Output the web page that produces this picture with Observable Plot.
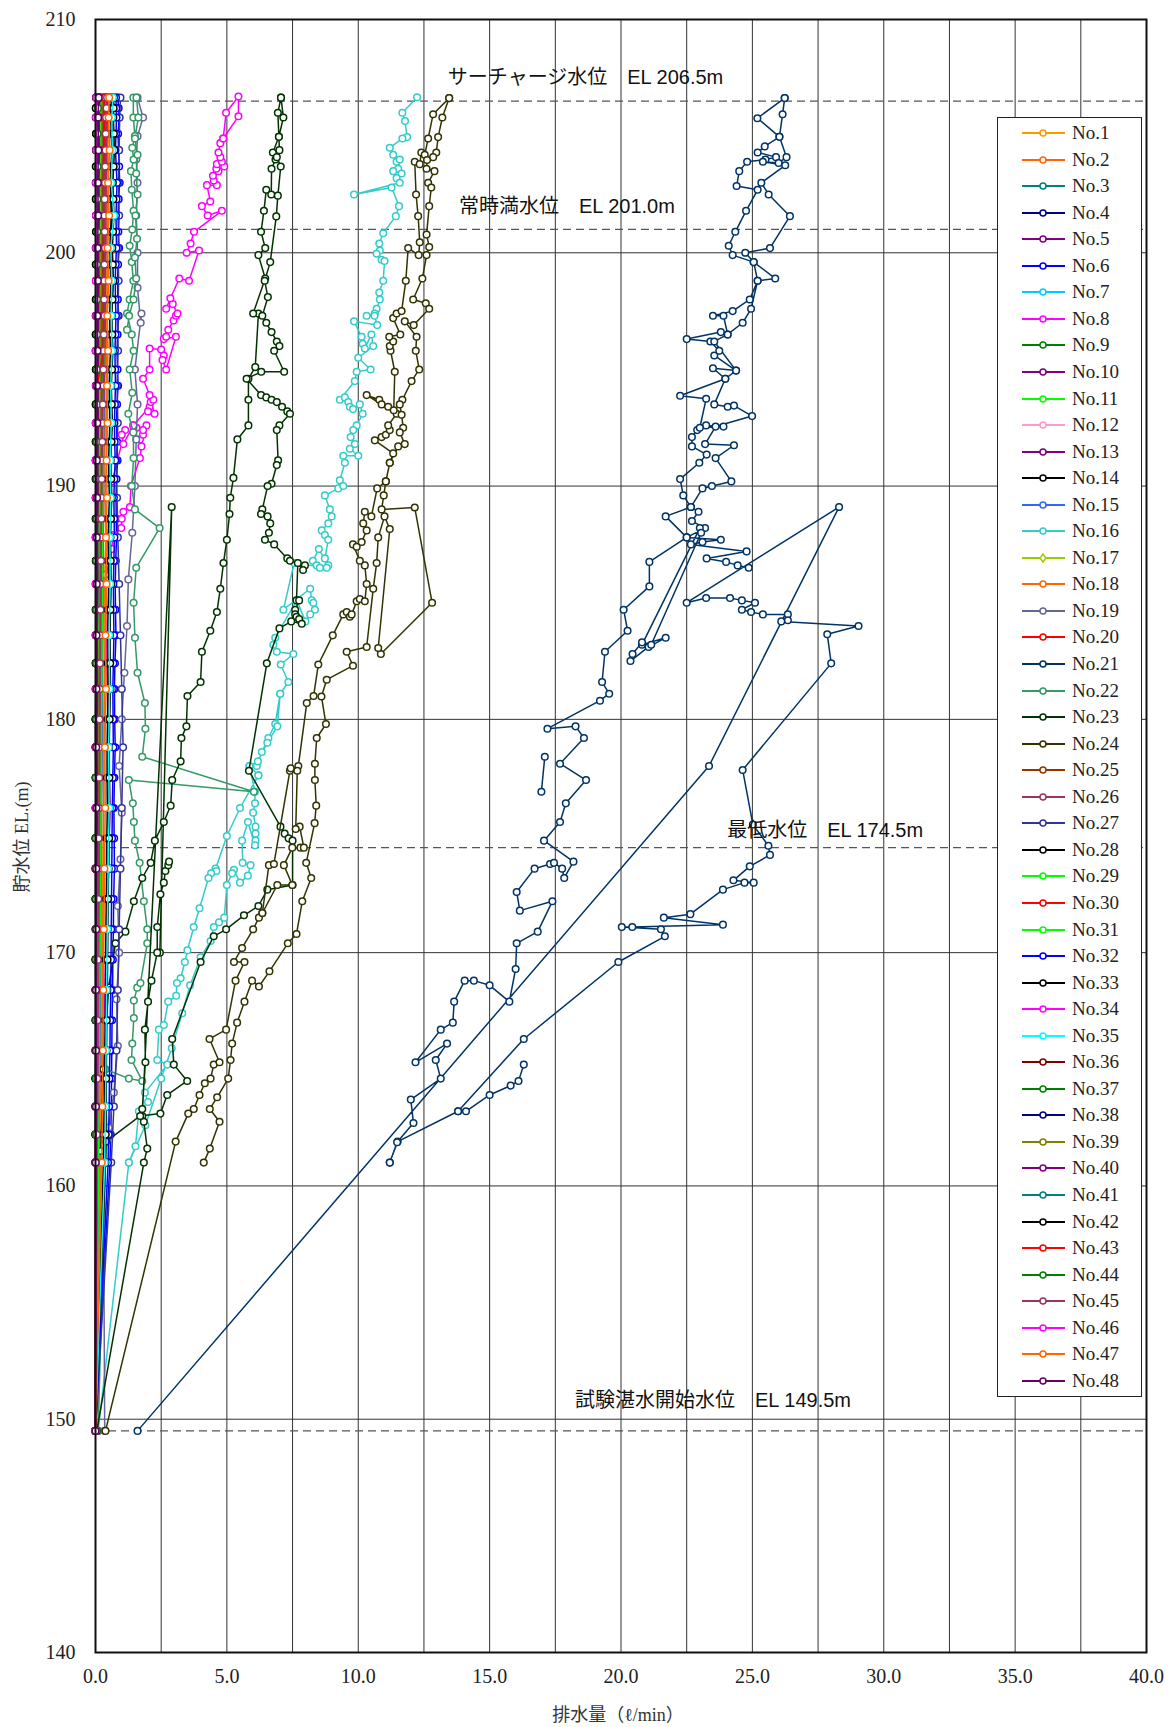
<!DOCTYPE html>
<html>
<head>
<meta charset="utf-8">
<script src="https://cdn.jsdelivr.net/npm/d3@7"></script>
<script src="https://cdn.jsdelivr.net/npm/@observablehq/plot@0.6"></script>
<style>
  body { margin: 0; background: #fff; }
  #wrap { position: relative; width: 1172px; height: 1727px; background: #fff; }
  #legend { position: absolute; left: 997px; top: 117px; width: 145px; height: 1280px;
            background: #fff; border: 1px solid #222; box-sizing: border-box; }
  #legend .row { position: absolute; left: 20px; height: 22px; display: flex; align-items: center;
                 font-family: "Liberation Serif", serif; font-size: 19px; color: #222; }
  #legend .row svg { margin-right: 4px; }
  .axis-title { position: absolute; font-family: "Liberation Serif", "Noto Sans CJK JP", serif;
                font-size: 18px; color: #333; white-space: nowrap; }
</style>
</head>
<body>
<div id="wrap"></div>
<script>
// ---- axes, grid and reference water levels ----
const xTicks = [0, 5, 10, 15, 20, 25, 30, 35, 40];
const xGrid = [2.5, 5, 7.5, 10, 12.5, 15, 17.5, 20, 22.5, 25, 27.5, 30, 32.5, 35, 37.5];
const yTicks = [140, 150, 160, 170, 180, 190, 200, 210];
const yGrid = [150, 160, 170, 180, 190, 200];
const refLevels = [206.5, 201.0, 174.5, 149.5];
const noteText = ["サーチャージ水位　EL 206.5m", "常時満水位　EL 201.0m", "最低水位　EL 174.5m", "試験湛水開始水位　EL 149.5m"];
const noteX = [13.41, 13.83, 24.04, 18.25];
const noteY = [207.5, 201.98, 175.22, 150.78];

// ---- series names and colours ----
const seriesNames = Array.from({length: 48}, (_, i) => "No." + (i + 1));
const seriesColors = [
  "#FF9900", "#FF6600", "#008080", "#000080", "#800080", "#0000FF", "#00CCFF", "#FF00FF",
  "#008000", "#800080", "#00FF00", "#FF99CC", "#800080", "#000000", "#3366FF", "#33CCCC",
  "#99CC00", "#FF6600", "#666699", "#FF0000", "#003366", "#339966", "#003300", "#333300",
  "#993300", "#993366", "#333399", "#000000", "#00FF00", "#FF0000", "#00FF00", "#0000FF",
  "#000000", "#FF00FF", "#00FFFF", "#800000", "#008000", "#000080", "#808000", "#800080",
  "#008080", "#000000", "#FF0000", "#008000", "#993366", "#FF00FF", "#FF6600", "#660066"
];

// ---- reservoir levels at which the small-discharge drains were read ----
const startLevel = 149.5;
const levels = [206.65, 205.8, 204.4, 203.0, 201.6, 200.2, 198.8, 197.3, 195.8, 194.3, 192.7, 191.1,
                189.5, 187.8, 185.8, 183.6, 181.3, 178.8, 176.2, 173.6, 171.0, 168.4, 165.8, 163.4, 161.0];
// further readings taken between the levels above (some drains only)
const levelsB = [206.2, 205.1, 203.7, 202.3, 200.9, 199.5, 198.0, 196.5, 195.0, 193.5, 191.9, 190.3,
                 188.6, 186.8, 184.7, 182.4, 180.0, 177.5, 174.9, 172.3, 169.7, 167.1, 164.6, 162.2];

// discharge (l/min) of the small drains, one value per level above
const no1  = [0.55,0.50,0.52,0.48,0.50,0.45,0.47,0.44,0.45,0.42,0.40,0.42,0.38,0.40,0.36,0.35,0.33,0.30,0.30,0.28,0.25,0.22,0.20,0.18,0.15];
const no2  = [0.45,0.42,0.45,0.40,0.42,0.38,0.40,0.36,0.38,0.35,0.34,0.33,0.32,0.30,0.30,0.28,0.26,0.25,0.22,0.20,0.18,0.16,0.14,0.12,0.10];
const no3  = [0.10,0.08,0.12,0.10,0.08,0.10,0.06,0.08,0.05,0.06,0.04,0.05,0.04,0.03,0.04,0.03,0.02,0.03,0.02,0.02,0.02,0.01,0.02,0.01,0.01];
const no4  = [0.15,0.12,0.14,0.10,0.12,0.10,0.12,0.08,0.10,0.08,0.06,0.08,0.05,0.06,0.05,0.04,0.05,0.04,0.03,0.04,0.03,0.02,0.03,0.02,0.02];
const no5  = [0.20,0.18,0.16,0.18,0.15,0.16,0.14,0.15,0.12,0.13,0.12,0.10,0.11,0.10,0.09,0.08,0.09,0.07,0.08,0.06,0.05,0.05,0.04,0.04,0.03];
const no6  = [0.85,0.90,0.88,0.92,0.86,0.90,0.84,0.88,0.82,0.86,0.80,0.84,0.78,0.80,0.75,0.78,0.72,0.75,0.70,0.72,0.68,0.65,0.62,0.60,0.55];
const no7  = [0.30,0.28,0.30,0.26,0.28,0.25,0.26,0.24,0.25,0.22,0.23,0.20,0.22,0.19,0.20,0.18,0.17,0.16,0.15,0.14,0.12,0.11,0.10,0.09,0.08];
const no9  = [0.12,0.15,0.10,0.14,0.12,0.15,0.10,0.12,0.14,0.10,0.12,0.10,0.11,0.09,0.10,0.08,0.09,0.07,0.08,0.06,0.07,0.05,0.06,0.04,0.05];
const no10 = [0.35,0.32,0.30,0.33,0.30,0.31,0.28,0.30,0.27,0.28,0.26,0.25,0.26,0.24,0.22,0.23,0.20,0.21,0.19,0.18,0.16,0.15,0.14,0.12,0.10];
const no11 = [0.25,0.22,0.24,0.20,0.22,0.20,0.18,0.20,0.17,0.18,0.16,0.17,0.15,0.16,0.14,0.15,0.13,0.12,0.11,0.10,0.09,0.08,0.07,0.06,0.05];
const no12 = [0.05,0.04,0.05,0.04,0.05,0.03,0.04,0.03,0.04,0.03,0.03,0.02,0.03,0.02,0.02,0.02,0.02,0.01,0.02,0.01,0.01,0.01,0.01,0.01,0.00];
const no13 = [0.28,0.25,0.27,0.24,0.26,0.23,0.24,0.22,0.23,0.21,0.20,0.21,0.19,0.20,0.18,0.17,0.16,0.15,0.14,0.13,0.12,0.11,0.10,0.09,0.08];
const no14 = [0.65,0.62,0.66,0.60,0.64,0.58,0.62,0.60,0.63,0.58,0.60,0.56,0.58,0.55,0.56,0.52,0.54,0.50,0.52,0.48,0.45,0.42,0.40,0.38,0.35];
const no15 = [0.40,0.38,0.40,0.36,0.38,0.35,0.36,0.34,0.33,0.34,0.32,0.30,0.31,0.29,0.28,0.27,0.26,0.25,0.23,0.22,0.20,0.18,0.17,0.15,0.13];
const no17 = [0.22,0.20,0.21,0.19,0.20,0.18,0.19,0.17,0.18,0.16,0.17,0.15,0.16,0.14,0.13,0.12,0.12,0.11,0.10,0.09,0.08,0.07,0.06,0.05,0.04];
const no18 = [0.50,0.48,0.46,0.48,0.45,0.46,0.43,0.44,0.42,0.43,0.40,0.41,0.38,0.39,0.36,0.37,0.34,0.33,0.31,0.30,0.28,0.26,0.24,0.22,0.20];
const no20 = [0.42,0.40,0.38,0.40,0.37,0.38,0.35,0.36,0.34,0.05,0.02,0.03,0.04,0.03,0.02,0.03,0.02,0.02,0.01,0.02,0.01,0.01,0.02,0.01,0.01];
const no25 = [0.32,0.30,0.31,0.28,0.30,0.27,0.28,0.26,0.27,0.25,0.24,0.25,0.23,0.22,0.21,0.20,0.19,0.18,0.17,0.16,0.14,0.13,0.12,0.10,0.09];
const no26 = [0.48,0.45,0.42,0.40,0.38,0.40,0.36,0.38,0.35,0.33,0.30,0.28,0.26,0.24,0.22,0.20,0.18,0.16,0.15,0.14,0.12,0.10,0.09,0.08,0.06];
const no27 = [0.95,0.92,0.90,0.88,0.90,0.86,0.88,0.85,0.86,0.82,0.85,0.80,0.82,0.85,0.90,0.95,1.00,1.05,1.00,0.95,0.90,0.85,0.80,0.70,0.60];
const no28 = [0.60,0.58,0.62,0.56,0.60,0.55,0.58,0.54,0.57,0.52,0.55,0.50,0.53,0.48,0.50,0.46,0.48,0.44,0.45,0.42,0.40,0.38,0.36,0.33,0.30];
const no29 = [0.18,0.16,0.17,0.15,0.16,0.14,0.15,0.13,0.14,0.12,0.13,0.11,0.12,0.10,0.11,0.09,0.10,0.08,0.09,0.07,0.08,0.06,0.07,0.05,0.04];
const no30 = [0.08,0.06,0.07,0.05,0.06,0.05,0.04,0.05,0.04,0.03,0.04,0.03,0.02,0.03,0.02,0.02,0.01,0.02,0.01,0.02,0.01,0.01,0.01,0.00,0.00];
const no31 = [0.38,0.35,0.36,0.33,0.35,0.32,0.33,0.30,0.32,0.29,0.30,0.28,0.29,0.26,0.27,0.25,0.24,0.22,0.21,0.20,0.18,0.16,0.15,0.13,0.12];
const no32 = [0.78,0.80,0.76,0.82,0.78,0.80,0.75,0.78,0.74,0.76,0.72,0.75,0.70,0.72,0.68,0.70,0.66,0.68,0.64,0.62,0.60,0.58,0.55,0.52,0.48];
const no33 = [0.70,0.68,0.72,0.66,0.70,0.64,0.68,0.62,0.66,0.60,0.64,0.58,0.62,0.57,0.60,0.55,0.57,0.52,0.54,0.50,0.47,0.45,0.42,0.40,0.38];
const no34 = [0.10,0.09,0.08,0.09,0.07,0.08,0.06,0.07,0.05,0.06,0.04,0.05,0.04,0.03,0.04,0.03,0.02,0.03,0.05,0.08,0.10,0.12,0.10,0.08,0.06];
const no35 = [0.66,0.62,0.64,0.60,0.70,0.58,0.62,0.60,0.63,0.58,0.60,0.56,0.58,0.55,0.56,0.52,0.54,0.50,0.52,0.48,0.45,0.42,0.40,0.38,0.35];
const no36 = [0.02,0.03,0.02,0.03,0.02,0.03,0.02,0.02,0.01,0.02,0.01,0.02,0.01,0.02,0.01,0.01,0.02,0.01,0.01,0.01,0.02,0.01,0.01,0.01,0.00];
const no37 = [0.14,0.12,0.15,0.11,0.13,0.10,0.12,0.10,0.11,0.09,0.10,0.08,0.09,0.07,0.08,0.06,0.07,0.05,0.06,0.05,0.04,0.04,0.03,0.03,0.02];
const no38 = [0.06,0.05,0.06,0.04,0.05,0.04,0.05,0.03,0.04,0.03,0.04,0.02,0.03,0.02,0.03,0.02,0.02,0.01,0.02,0.01,0.01,0.01,0.01,0.00,0.00];
const no39 = [0.26,0.24,0.25,0.22,0.24,0.21,0.22,0.20,0.21,0.19,0.20,0.18,0.19,0.17,0.16,0.15,0.14,0.13,0.12,0.11,0.10,0.09,0.08,0.07,0.06];
const no40 = [0.16,0.14,0.15,0.13,0.14,0.12,0.13,0.11,0.12,0.10,0.11,0.09,0.10,0.08,0.09,0.07,0.08,0.06,0.07,0.05,0.05,0.04,0.04,0.03,0.03];
const no41 = [0.04,0.03,0.04,0.03,0.03,0.02,0.03,0.02,0.03,0.02,0.02,0.01,0.02,0.01,0.02,0.01,0.01,0.01,0.01,0.01,0.00,0.01,0.00,0.00,0.00];
const no42 = [0.02,0.01,0.02,0.01,0.02,0.01,0.02,0.01,0.01,0.01,0.02,0.01,0.01,0.01,0.01,0.01,0.01,0.00,0.01,0.00,0.01,0.00,0.00,0.00,0.00];
const no43 = [0.36,0.34,0.35,0.32,0.34,0.31,0.32,0.30,0.31,0.05,0.03,0.04,0.02,0.03,0.02,0.02,0.01,0.02,0.01,0.01,0.02,0.01,0.01,0.01,0.00];
const no44 = [0.08,0.10,0.07,0.09,0.06,0.08,0.05,0.07,0.05,0.06,0.04,0.05,0.04,0.04,0.03,0.04,0.03,0.03,0.02,0.03,0.02,0.02,0.02,0.01,0.01];
const no45 = [0.44,0.40,0.38,0.36,0.34,0.36,0.32,0.34,0.30,0.30,0.27,0.25,0.24,0.22,0.20,0.18,0.16,0.15,0.13,0.12,0.10,0.09,0.08,0.06,0.05];
const no46 = [0.03,0.02,0.03,0.02,0.02,0.02,0.01,0.02,0.01,0.02,0.01,0.01,0.02,0.01,0.01,0.01,0.02,0.01,0.01,0.04,0.06,0.05,0.04,0.03,0.02];
const no47 = [0.52,0.50,0.54,0.48,0.52,0.46,0.50,0.45,0.48,0.44,0.46,0.42,0.44,0.40,0.42,0.38,0.40,0.36,0.37,0.34,0.32,0.30,0.28,0.26,0.24];
const no48 = [0.12,0.10,0.11,0.09,0.10,0.08,0.09,0.07,0.08,0.06,0.07,0.05,0.06,0.05,0.05,0.04,0.04,0.03,0.04,0.03,0.03,0.02,0.02,0.02,0.01];

// readings at levelsB
const no3b  = [0.09,0.11,0.09,0.07,0.09,0.07,0.06,0.07,0.05,0.05,0.04,0.05,0.03,0.04,0.03,0.03,0.02,0.02,0.02,0.02,0.01,0.02,0.01,0.01];
const no6b  = [0.88,0.86,0.90,0.88,0.87,0.86,0.85,0.84,0.84,0.82,0.82,0.80,0.79,0.77,0.76,0.74,0.73,0.72,0.71,0.69,0.66,0.63,0.61,0.58];
const no9b  = [0.14,0.12,0.13,0.13,0.14,0.12,0.11,0.13,0.12,0.11,0.11,0.10,0.10,0.09,0.09,0.08,0.08,0.07,0.07,0.06,0.06,0.05,0.05,0.04];
const no14b = [0.63,0.64,0.62,0.62,0.61,0.60,0.61,0.61,0.60,0.59,0.58,0.57,0.56,0.55,0.54,0.53,0.52,0.51,0.50,0.46,0.44,0.41,0.39,0.36];
const no20b = [0.41,0.39,0.39,0.38,0.37,0.36,0.35,0.35,0.20,0.04,0.03,0.03,0.03,0.02,0.02,0.02,0.02,0.01,0.01,0.01,0.01,0.01,0.01,0.01];
const no26b = [0.46,0.43,0.41,0.39,0.39,0.38,0.37,0.36,0.34,0.31,0.29,0.27,0.25,0.23,0.21,0.19,0.17,0.15,0.14,0.13,0.11,0.10,0.08,0.07];
const no28b = [0.59,0.60,0.59,0.58,0.57,0.56,0.56,0.55,0.54,0.53,0.52,0.51,0.50,0.49,0.48,0.47,0.46,0.44,0.43,0.41,0.39,0.37,0.34,0.31];
const no30b = [0.07,0.06,0.06,0.05,0.05,0.05,0.04,0.04,0.03,0.03,0.03,0.02,0.02,0.02,0.02,0.01,0.01,0.01,0.01,0.01,0.01,0.01,0.00,0.00];
const no32b = [0.79,0.78,0.79,0.80,0.79,0.77,0.76,0.76,0.75,0.74,0.73,0.72,0.71,0.70,0.69,0.68,0.67,0.66,0.63,0.61,0.59,0.56,0.53,0.50];
const no33b = [0.69,0.70,0.69,0.68,0.67,0.66,0.65,0.64,0.63,0.62,0.61,0.60,0.59,0.58,0.57,0.56,0.54,0.53,0.52,0.48,0.46,0.43,0.41,0.39];
const no36b = [0.02,0.02,0.03,0.02,0.02,0.02,0.02,0.01,0.02,0.01,0.01,0.01,0.01,0.02,0.01,0.01,0.01,0.01,0.01,0.01,0.01,0.01,0.01,0.00];
const no38b = [0.05,0.05,0.05,0.04,0.04,0.04,0.04,0.03,0.03,0.03,0.03,0.02,0.02,0.02,0.02,0.02,0.01,0.01,0.01,0.01,0.01,0.01,0.00,0.00];
const no42b = [0.01,0.02,0.01,0.01,0.02,0.01,0.01,0.01,0.01,0.01,0.01,0.01,0.01,0.01,0.01,0.01,0.00,0.01,0.00,0.00,0.00,0.00,0.00,0.00];
const no44b = [0.09,0.08,0.08,0.07,0.07,0.06,0.06,0.06,0.05,0.05,0.04,0.04,0.04,0.03,0.03,0.03,0.03,0.02,0.02,0.02,0.02,0.02,0.01,0.01];
const no45b = [0.42,0.39,0.37,0.35,0.35,0.34,0.33,0.32,0.30,0.28,0.26,0.24,0.23,0.21,0.19,0.17,0.15,0.14,0.12,0.11,0.09,0.08,0.07,0.05];

// ---- larger drains: traced runs of [discharge, level] readings ----
const no8 = [
  [[0.1,149.5],[0.2,161.0],[0.25,163.4],[0.3,165.8],[0.35,168.4],[0.4,171.0],[0.5,173.6],[0.55,176.2],[0.5,178.8],[0.45,181.3],[0.4,183.6],[0.375,186.2],[0.56,186.8],[0.63,187.3],[0.69,187.9],[0.98,188.2],[1.0,188.6],[1.06,188.9],[1.31,189.1],[1.35,190.0],[1.69,191.2],[1.75,191.7],[1.69,192.0],[1.81,192.2],[1.94,192.6],[1.81,192.4],[1.56,192.5],[1.44,192.6],[2.06,193.4],[2.0,193.2],[2.25,193.1],[2.1,193.6],[2.2,193.7],[2.06,193.9],[1.81,194.6],[2.06,195.0],[2.06,195.9],[2.5,195.85],[2.6,195.6],[2.55,195.4],[2.69,195.0],[3.06,196.4],[2.6,196.3],[2.69,196.4],[2.77,196.7],[2.97,197.1],[3.06,197.3],[3.12,197.4],[2.94,197.8],[2.69,197.6],[2.85,198.05],[3.19,198.9],[3.56,198.8],[3.94,200.1],[3.47,200.0],[3.62,200.4],[3.75,200.9],[4.81,201.8],[4.27,201.6],[4.05,202.0],[4.37,202.2],[4.24,202.9],[4.62,202.9],[4.5,203.1],[4.47,203.3],[4.9,203.7],[4.68,203.5],[4.6,203.6],[4.62,203.8],[4.81,203.9],[4.75,204.1],[4.68,204.3],[4.75,204.7],[4.86,204.9],[4.97,206.0],[5.44,206.7],[5.44,205.85],[4.86,204.9]],
  [[0.63,190.2],[1.13,192.4],[1.0,192.2],[1.06,191.8],[1.44,192.6]]
];

const no16 = [
  [[12.24,206.67],[11.68,206.0],[11.78,205.65],[11.86,204.96],[11.68,204.9],[11.2,204.5],[11.33,204.2],[11.46,203.9],[11.58,204.0],[11.52,203.6],[11.33,203.5],[11.65,203.4],[11.46,203.2],[11.58,203.0],[9.84,202.5],[11.27,202.8],[11.55,202.0],[11.43,201.57],[10.95,200.84],[10.8,200.4],[10.82,200.1],[10.7,199.96],[10.89,199.7],[11.0,199.65],[10.95,198.8],[10.8,198.3],[10.82,198.0],[10.7,197.6],[10.63,197.4],[10.32,197.3],[10.62,197.3],[10.72,196.9],[9.84,197.06],[10.13,196.4],[10.17,196.1],[10.25,195.9],[10.5,196.5],[10.57,196.0],[10.0,195.5],[10.47,195.0],[9.94,194.9],[9.87,194.5],[9.3,193.7],[9.49,193.8],[9.62,193.6],[9.68,193.4],[9.8,193.3],[10.06,193.5],[10.17,193.1],[9.94,192.6],[9.81,192.4],[9.71,192.1],[9.87,191.8],[9.68,191.6],[10.0,191.3],[9.43,191.3],[9.49,191.0],[9.3,190.25],[9.24,189.9],[9.43,190.0],[8.73,189.6],[8.92,189.0],[8.99,188.7],[8.86,188.4],[8.61,188.1],[8.73,187.9],[8.86,187.7],[8.73,186.9],[8.86,186.6],[8.5,187.3],[8.27,186.8],[8.42,186.6],[8.54,186.5],[8.8,186.5],[7.56,186.7],[7.15,184.7],[8.17,185.6],[8.23,185.1],[8.29,185.0],[8.35,184.7],[8.17,184.5],[7.99,184.2],[7.66,185.1],[6.84,183.5],[6.77,183.2],[6.9,182.9],[7.53,182.8],[7.05,182.35],[7.34,181.6],[7.03,181.1],[6.84,179.8],[6.58,179.2],[6.33,178.6],[6.14,178.0],[5.86,178.0],[6.2,177.6]],
  [[7.03,181.1],[6.92,179.7],[6.54,179.0],[6.18,178.2],[5.86,178.0],[6.07,176.9],[6.07,176.4],[6.0,176.0],[6.09,175.4],[6.09,175.1],[6.09,174.8],[6.07,174.6],[5.8,175.6],[5.58,174.8],[5.6,173.85],[5.9,173.75],[5.8,173.3],[5.5,173.0],[5.27,173.55],[5.2,173.4],[5.0,172.9],[4.9,171.5],[4.7,171.3],[4.5,171.1],[4.38,170.5],[4.0,169.8],[3.6,168.6],[3.3,167.4],[2.9,165.9],[2.5,164.6],[1.9,162.6],[1.27,161.0],[0.1,149.5]],
  [[6.2,177.6],[5.5,176.2],[5.0,175.0],[4.57,173.6],[4.6,173.5],[4.4,173.4],[4.3,173.2],[3.96,171.9],[3.74,171.1],[3.5,170.1],[3.4,169.6],[3.24,168.9],[3.1,168.7],[3.07,168.15],[2.77,167.9],[2.6,166.9],[2.41,166.7],[2.35,165.4],[2.73,165.2],[1.88,164.0],[2.0,163.6],[1.65,163.2],[1.52,161.7],[1.27,161.0]]
];

const no19 = [
  [[0.35,149.5],[0.3,161.0],[0.5,162.5],[0.7,164.0],[0.85,166.0],[0.8,168.0],[0.9,170.0],[0.85,172.0],[0.95,174.0],[1.0,176.0],[0.9,178.0],[1.0,180.0],[1.1,182.0],[1.2,184.0],[1.25,186.0],[1.4,188.0],[1.5,190.0],[1.55,192.0],[1.6,193.5],[1.5,195.0],[1.75,197.4],[1.72,197.0],[1.6,198.5],[1.6,200.0],[1.55,201.6],[1.6,203.0],[1.55,204.0],[1.6,205.0],[1.81,205.8],[1.6,206.65]]
];

const no21 = [
  [[1.6,149.5],[23.35,178.0],[28.3,189.1],[22.5,185.0],[23.24,185.2],[24.15,185.2],[24.6,185.1],[25.1,185.0],[24.6,184.7],[24.95,184.6],[25.4,184.5],[26.35,184.5],[26.35,184.25],[26.1,184.2],[29.04,184.0],[27.85,183.65],[28.0,182.4],[24.63,177.83],[25.02,175.49],[25.61,174.58],[25.67,174.19],[24.9,173.7],[24.28,173.1],[25.05,173.0],[24.7,173.0],[23.88,172.7],[22.64,171.65],[21.63,171.5],[23.88,171.2],[20.43,171.1],[20.03,171.1],[21.52,171.0],[21.67,170.7],[19.9,169.6],[16.3,166.3],[13.8,163.2],[11.5,161.9],[11.2,161.0]],
  [[13.8,163.2],[14.1,163.2],[15.0,163.9],[15.8,164.3],[16.1,164.5],[16.3,165.2]],
  [[11.2,161.0],[11.48,161.87],[12.1,162.7],[12.0,163.7],[13.14,164.6],[12.95,165.4],[13.38,166.1],[12.18,165.3],[13.14,166.7],[13.6,167.0],[13.65,167.9],[14.05,168.8],[14.4,168.8],[15.0,168.6],[15.75,167.9],[15.99,169.3],[16.03,170.4],[16.83,170.9],[17.39,172.2],[16.15,171.8],[16.03,172.6],[16.71,173.6],[17.3,173.8],[17.45,173.85],[17.76,173.6],[17.84,173.2],[18.19,173.9],[17.07,174.8],[17.68,175.6],[17.9,176.4],[18.67,177.4],[17.68,178.1],[18.59,179.2],[18.27,179.7],[17.2,179.6],[19.2,180.8],[19.55,181.1],[19.28,181.6],[19.39,182.9],[20.25,183.8],[20.1,184.7],[21.08,185.7],[21.08,186.75],[22.5,187.8],[21.7,188.7],[22.66,189.1],[22.37,189.6],[22.25,190.3],[22.98,191.0],[23.26,191.35],[22.7,191.7],[22.7,192.1],[22.9,192.4],[23.24,192.6],[23.9,192.55],[23.0,192.5],[23.24,193.74],[22.25,193.87],[23.97,194.6],[23.5,195.05],[24.38,194.95],[23.55,195.6],[23.74,195.8],[23.4,196.2],[22.5,196.3],[23.8,196.6],[24.06,196.5],[23.9,197.3],[23.5,197.3],[24.25,197.5],[24.9,198.0],[25.2,198.8],[25.05,199.6],[24.25,199.9],[24.1,200.3],[24.35,200.9],[24.76,201.8],[25.2,202.7],[24.4,202.86],[24.5,203.5],[24.8,203.9],[25.5,204.0],[25.9,204.1],[25.2,204.3],[25.47,204.56],[26.03,204.97],[25.19,205.77],[26.23,206.63]],
  [[26.23,206.63],[26.15,205.94],[26.03,204.97],[26.3,204.1],[26.0,203.85],[25.4,203.9],[26.25,203.75],[25.34,203.0],[25.62,202.5],[26.43,201.57],[25.67,200.2],[24.73,200.0],[25.05,199.6],[25.87,198.9],[25.2,198.8],[24.95,197.6],[24.63,197.0],[24.06,196.5],[23.55,196.2],[24.38,194.95],[23.97,194.6],[23.55,193.5],[24.06,193.4],[24.3,193.45],[24.99,193.0],[23.6,192.55],[23.2,191.8],[24.3,191.75],[23.6,191.2],[24.2,190.2],[23.46,190.0],[23.1,189.9],[22.66,189.1],[22.95,188.9],[22.7,188.5],[23.2,188.2],[22.5,187.8],[23.8,187.7],[23.1,187.6],[22.66,187.5],[24.78,187.2],[23.26,186.9],[24.0,186.75],[24.44,186.6],[24.86,186.5]],
  [[23.0,188.2],[20.8,183.2],[21.7,183.5],[21.05,183.1],[20.8,183.3],[20.44,182.8],[20.36,182.5],[21.15,183.2],[23.05,188.0]],
  [[17.1,178.4],[16.97,176.9]]
];

const no22 = [
  [[0.1,149.5],[0.38,161.0],[0.44,162.0],[0.38,165.0],[1.27,164.6],[1.78,164.5],[1.37,165.4],[1.4,166.1],[1.46,167.2],[1.46,167.95],[1.59,168.5],[1.71,168.7],[1.97,170.4],[1.97,171.0],[1.84,172.2],[1.68,173.85],[1.5,174.8],[1.46,175.6],[1.42,176.4],[1.27,177.4],[6.03,176.9],[1.78,178.4],[1.9,179.6],[1.88,180.7],[1.6,182.0],[1.5,183.5],[1.45,185.0],[1.55,186.5],[2.44,188.2],[1.5,189.0],[1.38,190.0],[1.45,191.2],[1.44,192.3],[1.25,193.1],[1.4,194.0],[1.3,195.0],[1.45,195.8],[1.38,196.5],[1.2,197.4],[1.3,198.0],[1.44,198.8],[1.38,199.6],[1.3,200.3],[1.4,201.0],[1.45,201.8],[1.38,202.7],[1.35,203.5],[1.45,204.0],[1.4,204.5],[1.5,205.0],[1.44,205.8],[1.44,206.65]],
  [[1.56,206.65],[1.63,205.8],[1.5,204.9],[1.6,204.2],[1.55,203.4],[1.6,202.5],[1.52,201.6],[1.58,200.6],[1.5,199.8],[1.55,198.9],[1.45,198.0],[1.28,197.3],[1.2,196.7]]
];

const no23 = [
  [[1.78,163.0],[2.9,189.1],[2.45,170.0]],
  [[0.05,149.5],[1.84,161.0],[1.97,161.6],[1.84,162.75],[1.78,163.3],[1.9,165.3],[1.88,166.7],[2.0,167.9],[2.13,168.8],[2.35,170.0],[2.35,171.1],[2.47,172.5],[2.6,173.0],[2.66,173.5],[2.77,173.75],[2.8,173.9]],
  [[0.2,161.5],[0.3,165.0],[0.5,168.5],[0.76,170.4],[1.14,170.9],[1.46,172.2],[1.78,173.2],[2.1,173.85],[2.26,174.8],[2.6,175.6],[2.86,176.3],[2.92,177.4],[3.24,178.2],[3.27,179.2],[3.46,179.7],[3.5,181.0],[4.0,181.6],[4.05,182.9],[4.37,183.8],[4.62,184.6],[4.75,185.6],[4.87,186.7],[5.0,187.7],[5.1,188.8],[5.13,189.5],[5.25,190.35],[5.4,192.0],[5.82,192.6],[5.82,193.7],[5.82,194.6],[6.08,195.1],[6.2,197.4],[6.0,197.4],[6.46,198.9],[6.2,199.9],[6.46,200.2],[6.3,200.9],[6.41,201.8],[6.5,202.7],[6.69,202.5],[6.7,203.6],[6.85,204.0],[6.75,204.3],[6.98,204.97],[6.94,206.0],[7.06,206.65]],
  [[7.06,206.65],[7.15,205.8],[6.98,204.97],[7.0,204.4],[6.9,204.1],[7.05,203.7],[6.94,202.45],[6.88,201.56],[6.65,199.6],[6.44,198.8],[6.56,198.1],[6.35,197.3],[6.5,197.0],[6.7,196.6],[6.9,196.2],[7.0,196.0],[6.8,195.8],[7.18,194.9],[6.31,194.9],[5.75,194.6],[6.3,193.9],[6.5,193.8],[6.7,193.7],[6.9,193.6],[7.1,193.4],[7.3,193.2],[7.4,193.1],[7.0,192.6],[6.9,192.4],[6.95,191.1],[6.9,190.9],[6.7,190.1],[6.55,190.0],[6.35,189.0],[6.3,188.8],[6.55,188.7],[6.65,188.4],[6.6,188.0],[6.45,187.7],[6.8,187.5],[7.3,186.9],[7.4,186.8],[7.97,186.6],[7.9,186.4],[7.7,186.7],[7.65,185.1],[7.75,185.1],[7.6,184.7],[7.6,184.5],[7.65,184.4],[7.75,184.3],[7.85,184.1],[7.45,184.2],[7.0,183.9],[6.52,182.4],[5.84,177.8],[7.04,175.4],[7.2,175.1],[7.35,174.9],[7.5,174.8],[7.5,172.9],[6.54,172.7],[6.2,172.0],[5.65,171.6],[4.97,171.0],[4.5,170.7],[4.0,169.6],[2.92,166.3],[2.98,165.2],[3.49,164.5],[2.73,163.9],[2.47,163.1],[1.7,163.0],[0.4,161.9]]
];

const no24 = [
  [[0.38,149.5],[3.05,161.9],[3.53,163.1],[3.74,163.3],[3.96,163.9],[4.16,164.4],[4.38,164.6],[4.5,165.2],[4.72,165.3],[4.34,166.3],[4.97,166.7],[5.33,168.8],[5.67,169.6],[5.27,169.6],[5.58,170.2],[6.0,171.0],[6.22,171.5],[6.35,171.7],[6.6,173.75],[6.79,173.8],[7.4,177.8],[7.72,178.0],[8.04,180.7],[8.3,181.0],[8.48,182.35],[9.03,183.6],[9.43,184.5],[9.56,184.6],[9.68,184.4],[9.75,184.5],[9.94,185.06],[10.06,185.16],[10.25,185.06],[10.32,185.8],[10.25,186.6],[10.06,186.8],[9.8,187.5],[9.94,187.4],[10.13,187.6],[10.32,188.1],[10.19,188.4],[10.25,188.9],[10.5,188.7],[10.72,189.9],[11.05,190.2],[11.2,191.0],[11.33,191.4],[10.63,191.96],[10.89,192.1],[11.05,192.2],[11.2,192.4],[11.14,192.6],[11.46,193.1],[10.32,193.9],[10.8,193.7],[10.89,193.5],[11.14,193.4],[11.35,193.25],[11.39,194.9],[11.23,195.8],[11.2,196.0],[11.33,196.2],[11.18,196.4],[11.6,196.5],[11.33,197.2],[11.46,197.4],[11.65,197.5],[11.81,198.8],[11.9,200.2],[12.3,199.9],[12.34,200.45],[12.28,201.57],[12.2,202.5],[12.15,203.9],[12.34,203.8],[12.4,204.3],[12.53,204.2],[12.66,204.9],[12.85,205.94],[13.46,206.63]],
  [[13.46,206.63],[13.2,205.8],[13.04,204.96],[12.97,204.3],[12.85,204.1],[12.62,203.98],[12.6,203.6],[12.9,203.5],[12.66,203.0],[12.78,202.8],[12.7,202.0],[12.6,200.78],[12.7,200.25],[12.6,199.9],[12.44,198.9],[12.09,198.0],[12.57,197.84],[12.7,197.6],[12.11,196.9],[11.77,197.06],[12.22,196.4],[12.19,195.8],[12.32,195.0],[12.03,194.5],[11.68,193.7],[11.58,193.5],[11.65,193.06],[11.71,192.5],[11.58,192.3],[11.77,191.8],[11.52,191.7],[11.2,191.0],[11.05,190.2],[10.97,189.6],[10.89,189.0],[12.15,189.08],[12.81,185.0],[10.86,182.8],[10.76,183.06],[11.2,188.16],[11.0,188.7],[10.76,187.8],[10.7,186.7],[10.57,185.6],[10.32,183.1],[9.56,182.9],[9.8,182.3],[8.8,181.7],[8.6,180.98],[8.77,179.8],[8.42,179.2],[8.35,178.1],[8.35,177.4],[8.4,176.3],[8.34,175.55],[8.02,173.85],[8.21,173.2],[7.87,172.2],[7.65,170.8],[7.32,170.4],[6.62,169.2],[6.22,168.55],[5.96,168.8],[5.67,167.9],[5.39,167.0],[5.2,166.1],[5.14,165.4],[5.05,164.6],[4.63,163.8],[4.35,163.3],[4.72,162.75],[4.35,161.6],[4.12,161.0]],
  [[6.35,171.7],[6.92,172.9],[7.49,172.9],[7.17,173.75],[7.49,174.5],[7.8,174.5],[7.93,174.5],[7.77,175.4],[7.62,175.3],[7.68,177.8],[7.43,177.9]]
];

// ---- assemble rows for each series ----
function traceRows(segments) {
  const rows = [];
  segments.forEach((seg, i) => {
    if (i > 0) rows.push({x: NaN, y: NaN});
    seg.forEach(([x, y]) => rows.push({x, y}));
  });
  return rows;
}
function levelRows(xs, xsB) {
  const rows = xs.map((x, i) => ({x, y: levels[i]}));
  if (xsB) xsB.forEach((x, i) => rows.push({x, y: levelsB[i]}));
  rows.sort((a, b) => a.y - b.y);
  return [{x: 0, y: startLevel}, ...rows];
}
const levelSeries = {1: no1, 2: no2, 3: no3, 4: no4, 5: no5, 6: no6, 7: no7, 9: no9, 10: no10, 11: no11,
  12: no12, 13: no13, 14: no14, 15: no15, 17: no17, 18: no18, 20: no20, 25: no25, 26: no26, 27: no27,
  28: no28, 29: no29, 30: no30, 31: no31, 32: no32, 33: no33, 34: no34, 35: no35, 36: no36, 37: no37,
  38: no38, 39: no39, 40: no40, 41: no41, 42: no42, 43: no43, 44: no44, 45: no45, 46: no46, 47: no47, 48: no48};
const levelSeriesB = {3: no3b, 6: no6b, 9: no9b, 14: no14b, 20: no20b, 26: no26b, 28: no28b, 30: no30b,
  32: no32b, 33: no33b, 36: no36b, 38: no38b, 42: no42b, 44: no44b, 45: no45b};
const traceSeries = {8: no8, 16: no16, 19: no19, 21: no21, 22: no22, 23: no23, 24: no24};

const seriesMarks = [];
for (let n = 1; n <= 48; n++) {
  const rows = levelSeries[n] ? levelRows(levelSeries[n], levelSeriesB[n]) : traceRows(traceSeries[n]);
  const color = seriesColors[n - 1];
  seriesMarks.push(Plot.line(rows, {x: "x", y: "y", stroke: color, strokeWidth: 1.5}));
  seriesMarks.push(Plot.dot(rows, {x: "x", y: "y", stroke: color, fill: "white", strokeWidth: 1.5,
    r: 3.3, symbol: n === 17 ? "diamond2" : "circle"}));
}

const notes = noteText.map((t, i) => ({text: t, x: noteX[i], y: noteY[i]}));

const chart = Plot.plot({
  width: 1172,
  height: 1727,
  marginLeft: 95,
  marginRight: 26,
  marginTop: 19,
  marginBottom: 75,
  style: {background: "#fff", fontFamily: "'Liberation Serif', serif", color: "#222"},
  x: {domain: [0, 40]},
  y: {domain: [140, 210]},
  marks: [
    Plot.ruleX(xGrid, {stroke: "#333", strokeWidth: 1}),
    Plot.ruleY(yGrid, {stroke: "#333", strokeWidth: 1}),
    Plot.ruleY(refLevels, {stroke: "#555", strokeWidth: 1.3, strokeDasharray: "8,5"}),
    ...seriesMarks,
    Plot.text(notes, {x: "x", y: "y", text: "text", textAnchor: "start", fontSize: 20,
      fontFamily: "'Liberation Sans', 'Noto Sans CJK JP', sans-serif", fill: "#111"}),
    Plot.frame({stroke: "#111", strokeWidth: 2}),
    Plot.axisX({ticks: xTicks, tickFormat: d => d.toFixed(1), tickSize: 0, tickPadding: 16,
      fontSize: 20, label: null}),
    Plot.axisY({ticks: yTicks, tickSize: 0, tickPadding: 20, fontSize: 20, label: null})
  ]
});

const wrap = document.getElementById("wrap");
wrap.appendChild(chart);

// axis titles
const xTitle = document.createElement("div");
xTitle.className = "axis-title";
xTitle.textContent = "排水量（ℓ/min）";
xTitle.style.left = "618px";
xTitle.style.top = "1713px";
xTitle.style.transform = "translate(-50%, -50%)";
wrap.appendChild(xTitle);

const yTitle = document.createElement("div");
yTitle.className = "axis-title";
yTitle.textContent = "貯水位 EL.(m)";
yTitle.style.left = "20px";
yTitle.style.top = "837px";
yTitle.style.transform = "translate(-50%, -50%) rotate(-90deg)";
wrap.appendChild(yTitle);

// legend
const legend = document.createElement("div");
legend.id = "legend";
seriesNames.forEach((name, i) => {
  const color = seriesColors[i];
  const row = document.createElement("div");
  row.className = "row";
  row.style.top = (15 + i * 26.55 - 11) + "px";
  const marker = i === 16
    ? `<path d="M25,7 L28,11 L25,15 L22,11 Z" fill="white" stroke="${color}" stroke-width="1.5"/>`
    : `<circle cx="25" cy="11" r="3" fill="white" stroke="${color}" stroke-width="1.5"/>`;
  row.innerHTML = `<svg width="50" height="22"><line x1="4" y1="11" x2="47" y2="11" stroke="${color}" stroke-width="2"/>${marker}</svg><span>${name}</span>`;
  legend.appendChild(row);
});
wrap.appendChild(legend);
</script>
</body>
</html>
